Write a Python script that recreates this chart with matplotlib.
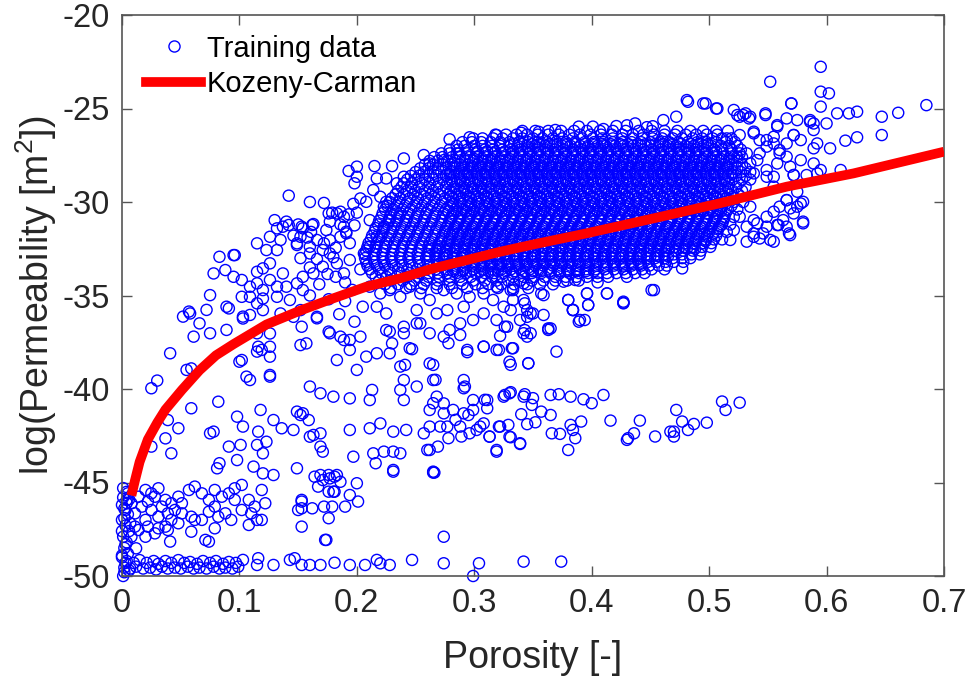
import numpy as np
import matplotlib
matplotlib.use("Agg")
import matplotlib.pyplot as plt
from matplotlib.lines import Line2D

plt.rcParams['font.family'] = ['Liberation Sans', 'DejaVu Sans']
plt.rcParams['mathtext.fontset'] = 'custom'
plt.rcParams['mathtext.rm'] = 'Liberation Sans'
plt.rcParams['mathtext.it'] = 'Liberation Sans'
plt.rcParams['axes.unicode_minus'] = False

# ---------------- data ----------------
# Kozeny-Carman curve
kc_x = [0.008, 0.011, 0.015, 0.022, 0.030, 0.037, 0.045, 0.051, 0.066, 0.080, 0.095, 0.123, 0.152, 0.180,
        0.208, 0.237, 0.265, 0.294, 0.322, 0.348, 0.396, 0.453, 0.509, 0.566, 0.623, 0.700]
kc_y = [-45.7, -44.9, -43.9, -42.7, -41.8, -41.1, -40.5, -40.05, -39.0, -38.2, -37.6, -36.55, -35.8, -35.15,
        -34.53, -34.08, -33.55, -33.10, -32.66, -32.30, -31.67, -30.87, -30.07, -29.18, -28.47, -27.31]

# bottom band of samples (log k ~ -49.5)
band_pts = [(0.004, -49.2), (0.010, -49.3), (0.015, -49.15), (0.021, -49.3), (0.027, -49.2), (0.031, -49.35),
            (0.037, -49.2), (0.042, -49.3), (0.048, -49.15), (0.053, -49.3), (0.058, -49.25), (0.064, -49.35),
            (0.069, -49.2), (0.075, -49.3), (0.080, -49.2), (0.086, -49.35), (0.091, -49.25), (0.097, -49.3),
            (0.002, -49.55), (0.007, -49.6), (0.012, -49.5), (0.018, -49.6), (0.024, -49.55), (0.029, -49.65),
            (0.034, -49.5), (0.039, -49.6), (0.045, -49.55), (0.050, -49.6), (0.056, -49.5), (0.061, -49.6),
            (0.066, -49.55), (0.072, -49.6), (0.078, -49.5), (0.083, -49.6), (0.088, -49.55), (0.094, -49.6),
            (0.099, -49.5), (0.103, -49.14), (0.116, -49.05), (0.115, -49.41), (0.129, -49.41), (0.143, -49.14),
            (0.147, -49.05), (0.153, -49.41), (0.160, -49.41), (0.169, -49.41), (0.181, -49.29), (0.194, -49.41),
            (0.207, -49.41), (0.217, -49.14), (0.220, -49.32), (0.228, -49.41), (0.247, -49.14), (0.274, -49.32),
            (0.304, -49.32), (0.342, -49.23), (0.374, -49.23), (0.299, -50.0), (0.274, -47.9), (0.001, -50.0)]

# column of samples at very low porosity
col_pts = [(0.001, -45.8), (0.004, -46.1), (0.002, -46.4), (0.005, -46.7), (0.000, -47.0), (0.003, -47.3),
           (0.006, -47.6), (0.001, -47.9), (0.004, -48.2), (0.002, -48.5), (0.005, -48.8), (0.000, -49.0),
           (0.003, -49.3), (0.006, -49.7), (0.000, -46.2), (0.002, -46.9), (0.000, -47.6), (0.003, -48.3),
           (0.000, -48.9), (0.002, -49.8), (0.004, -45.5), (0.001, -45.3), (0.006, -45.9)]

# cluster around log k -45 .. -48
low_pts = [(0.003, -46.47), (0.008, -46.11), (0.014, -45.76), (0.020, -45.40), (0.025, -45.58), (0.031, -45.31),
           (0.037, -45.93), (0.042, -46.11), (0.048, -45.76), (0.057, -45.40), (0.062, -45.22), (0.068, -45.58),
           (0.074, -45.93), (0.079, -45.40), (0.085, -45.76), (0.091, -45.58), (0.096, -45.31), (0.102, -45.13),
           (0.108, -45.93), (0.113, -46.29), (0.119, -45.40), (0.122, -46.11), (0.110, -46.65), (0.119, -47.00),
           (0.108, -47.27), (0.102, -46.47), (0.096, -45.93), (0.088, -46.65), (0.079, -46.29), (0.074, -46.56),
           (0.068, -47.00), (0.059, -46.83), (0.051, -46.65), (0.042, -47.00), (0.037, -47.36), (0.031, -46.83),
           (0.025, -46.47), (0.020, -47.00), (0.014, -47.54), (0.008, -47.90), (0.012, -48.52), (0.020, -47.90),
           (0.028, -47.72), (0.039, -47.54), (0.048, -47.18), (0.059, -47.63), (0.071, -48.07), (0.079, -47.45),
           (0.062, -47.00), (0.082, -46.83), (0.093, -47.00), (0.115, -47.00), (0.041, -48.16), (0.074, -48.16),
           (0.005, -45.58), (0.011, -46.65), (0.017, -46.29), (0.022, -46.02), (0.028, -45.76), (0.034, -46.29),
           (0.039, -46.65), (0.045, -46.47), (0.051, -46.11), (0.022, -47.36), (0.031, -47.45), (0.007, -47.18),
           (0.004, -45.93), (0.011, -47.36), (0.153, -46.02), (0.153, -47.36), (0.173, -48.07), (0.164, -44.69),
           (0.176, -44.60), (0.181, -44.69), (0.167, -45.22), (0.176, -45.49), (0.181, -45.49), (0.162, -46.38),
           (0.172, -46.29), (0.179, -46.29), (0.176, -46.91), (0.190, -46.29), (0.194, -45.67), (0.201, -46.02),
           (0.200, -45.04), (0.150, -46.47), (0.153, -45.93), (0.153, -46.38), (0.174, -48.07), (0.180, -45.49)]

# sparse samples in the middle of the plot
mid_pts = [(0.041, -38.09), (0.025, -39.96), (0.030, -39.55), (0.055, -38.98), (0.059, -38.90), (0.059, -41.03),
           (0.039, -41.66), (0.048, -42.10), (0.037, -42.64), (0.025, -43.08), (0.042, -43.44), (0.082, -40.68),
           (0.075, -42.37), (0.078, -42.28), (0.098, -41.48), (0.103, -42.01), (0.091, -43.08), (0.101, -42.99),
           (0.098, -43.80), (0.083, -43.97), (0.081, -44.24), (0.118, -41.12), (0.116, -42.28), (0.115, -42.99),
           (0.120, -43.44), (0.123, -42.82), (0.129, -41.66), (0.126, -39.34), (0.109, -39.52), (0.106, -39.34),
           (0.102, -38.45), (0.100, -38.54), (0.126, -38.27), (0.119, -37.91), (0.115, -38.00), (0.112, -44.15),
           (0.120, -44.51), (0.129, -44.60), (0.136, -42.10), (0.146, -42.19), (0.149, -41.21), (0.152, -41.39),
           (0.154, -41.30), (0.159, -41.66), (0.163, -42.46), (0.160, -42.55), (0.169, -42.37), (0.169, -43.08),
           (0.171, -43.35), (0.149, -44.24), (0.169, -44.60), (0.171, -44.87), (0.177, -44.78), (0.183, -44.60),
           (0.186, -44.96), (0.160, -39.87), (0.169, -40.23), (0.180, -40.41), (0.194, -40.50), (0.177, -37.02),
           (0.186, -37.20), (0.194, -37.38), (0.203, -37.20), (0.200, -38.98), (0.183, -38.45), (0.217, -38.09),
           (0.228, -38.09), (0.245, -37.82), (0.213, -40.05), (0.211, -40.59), (0.194, -42.19), (0.197, -43.62),
           (0.214, -43.44), (0.216, -43.97), (0.223, -43.35), (0.231, -43.35), (0.237, -43.44), (0.231, -44.33),
           (0.211, -42.10), (0.220, -41.84), (0.231, -42.28), (0.242, -42.19), (0.257, -42.37), (0.262, -42.01),
           (0.237, -38.80), (0.240, -39.52), (0.237, -40.05), (0.240, -40.59), (0.251, -39.87), (0.262, -38.63),
           (0.265, -39.52), (0.268, -40.41), (0.274, -40.77), (0.262, -41.12), (0.274, -41.30), (0.291, -39.52),
           (0.291, -39.96), (0.299, -40.59), (0.311, -40.59), (0.325, -40.41), (0.330, -40.23), (0.342, -40.41),
           (0.277, -42.01), (0.288, -42.01), (0.296, -42.37), (0.302, -42.19), (0.308, -41.84), (0.313, -42.55),
           (0.322, -42.01), (0.330, -42.55), (0.339, -42.90), (0.319, -43.26), (0.260, -43.26), (0.265, -44.42),
           (0.291, -41.30), (0.299, -41.12), (0.153, -36.67), (0.157, -37.56), (0.152, -37.65), (0.166, -36.22),
           (0.176, -36.93), (0.189, -37.38), (0.194, -37.91), (0.208, -38.27), (0.228, -36.93), (0.230, -37.56),
           (0.240, -37.02), (0.254, -36.49), (0.262, -37.02), (0.274, -37.20), (0.279, -36.84), (0.294, -37.91),
           (0.308, -37.74), (0.319, -37.91), (0.330, -38.54), (0.333, -37.82), (0.342, -37.02), (0.052, -36.13),
           (0.057, -35.86), (0.066, -36.49), (0.072, -35.77), (0.075, -37.02), (0.061, -37.20), (0.089, -36.84),
           (0.091, -35.69), (0.103, -36.13), (0.109, -36.04), (0.115, -37.02), (0.116, -37.74), (0.126, -37.74),
           (0.126, -39.25), (0.511, -40.67), (0.514, -41.12), (0.526, -40.73), (0.472, -41.12), (0.477, -41.74),
           (0.487, -41.87), (0.498, -41.80), (0.482, -42.19), (0.470, -42.28), (0.467, -42.28), (0.470, -42.54),
           (0.454, -42.54), (0.441, -41.69), (0.436, -42.37), (0.431, -42.63), (0.430, -42.72), (0.416, -41.69),
           (0.410, -40.32), (0.400, -40.76), (0.393, -40.55), (0.382, -40.41), (0.372, -40.28), (0.365, -40.32),
           (0.350, -40.49), (0.349, -40.85), (0.343, -40.28), (0.331, -40.17), (0.326, -40.32), (0.391, -41.74),
           (0.382, -41.92), (0.384, -42.19), (0.386, -42.63), (0.380, -43.26), (0.373, -42.40), (0.366, -42.37),
           (0.365, -41.39), (0.357, -41.21), (0.352, -41.78), (0.345, -41.88), (0.340, -41.35), (0.339, -42.94),
           (0.331, -42.58), (0.329, -41.92), (0.321, -42.01), (0.319, -43.35), (0.313, -42.54), (0.311, -41.03),
           (0.309, -40.58), (0.305, -42.01), (0.295, -41.39), (0.289, -42.54), (0.284, -41.65), (0.278, -42.63),
           (0.282, -41.12), (0.269, -43.08), (0.262, -43.26), (0.265, -44.47), (0.271, -42.01), (0.265, -40.76),
           (0.267, -39.51), (0.292, -39.87), (0.370, -38.00), (0.346, -38.62), (0.331, -38.71), (0.332, -37.82),
           (0.321, -37.91), (0.308, -37.73), (0.294, -38.03), (0.278, -37.55), (0.288, -37.11), (0.322, -37.16),
           (0.345, -37.20), (0.363, -36.84), (0.265, -38.71), (0.247, -37.87), (0.241, -38.71), (0.346, -38.63),
           (0.363, -36.76), (0.348, -37.02), (0.359, -36.04), (0.384, -35.77), (0.389, -36.40), (0.394, -36.31),
           (0.397, -35.51), (0.427, -35.42), (0.231, -44.42), (0.266, -44.47)]

# samples left of / below the main cloud
left_pts = [(0.142, -29.66), (0.193, -28.34), (0.200, -28.11), (0.200, -28.65), (0.198, -29.00), (0.203, -29.81),
            (0.215, -28.08), (0.230, -28.08), (0.240, -27.67), (0.257, -27.49), (0.279, -26.65), (0.296, -26.54),
            (0.285, -27.40), (0.274, -27.76), (0.262, -27.94), (0.319, -26.42), (0.179, -30.57), (0.186, -30.52),
            (0.193, -30.66), (0.200, -30.57), (0.177, -31.05), (0.189, -31.32), (0.191, -31.68), (0.174, -31.50),
            (0.163, -31.18), (0.154, -31.41), (0.152, -31.86), (0.140, -31.05), (0.132, -31.41), (0.130, -30.97),
            (0.126, -31.86), (0.115, -32.21), (0.123, -32.57), (0.132, -32.57), (0.135, -32.03), (0.149, -32.30),
            (0.160, -32.39), (0.166, -32.03), (0.171, -32.57), (0.177, -32.75), (0.160, -32.75), (0.083, -32.93),
            (0.095, -32.84), (0.088, -33.64), (0.078, -33.82), (0.095, -34.00), (0.102, -34.17), (0.075, -34.98),
            (0.089, -35.60), (0.102, -35.07), (0.109, -34.53), (0.115, -34.35), (0.120, -34.71), (0.126, -34.17),
            (0.132, -34.53), (0.140, -34.53), (0.149, -34.35), (0.154, -34.00), (0.137, -33.82), (0.126, -33.28),
            (0.120, -33.55), (0.115, -33.73), (0.109, -35.07), (0.115, -35.42), (0.120, -35.78), (0.132, -35.07),
            (0.143, -35.24), (0.154, -34.71), (0.163, -33.82), (0.171, -33.46), (0.183, -33.28), (0.189, -33.82),
            (0.194, -33.10), (0.206, -32.75), (0.211, -32.39), (0.217, -31.86), (0.223, -31.32), (0.228, -30.97),
            (0.234, -30.61), (0.223, -30.25), (0.211, -30.97), (0.058, -35.96), (0.214, -29.36), (0.220, -29.72),
            (0.225, -29.99), (0.208, -29.99), (0.217, -28.74), (0.225, -28.74), (0.234, -29.00), (0.240, -28.65),
            (0.137, -31.32), (0.142, -31.23), (0.153, -31.32), (0.162, -31.23), (0.149, -32.21), (0.172, -32.21),
            (0.177, -32.04), (0.186, -31.86), (0.191, -31.59), (0.176, -30.61), (0.183, -30.61), (0.189, -30.79),
            (0.096, -32.84), (0.120, -35.16), (0.103, -36.23), (0.135, -35.96), (0.146, -36.14), (0.152, -35.78),
            (0.166, -36.14), (0.126, -37.03), (0.160, -30.00), (0.172, -30.05), (0.197, -30.10), (0.150, -31.20),
            (0.161, -31.60), (0.186, -31.20), (0.198, -31.25), (0.146, -31.80), (0.158, -31.90), (0.182, -32.45),
            (0.194, -32.20), (0.152, -33.00), (0.166, -33.05), (0.180, -32.95), (0.160, -33.50), (0.175, -33.85),
            (0.190, -34.30), (0.203, -33.60), (0.168, -34.40), (0.182, -34.00), (0.196, -34.70), (0.160, -35.00),
            (0.176, -35.20), (0.190, -35.30), (0.205, -35.60), (0.185, -36.00), (0.198, -36.40)]

# samples just below the main cloud
below_pts = [(0.333, -34.71), (0.342, -35.24), (0.350, -35.96), (0.357, -34.89), (0.345, -36.14), (0.331, -35.78),
             (0.326, -36.67), (0.343, -36.85), (0.365, -36.76), (0.380, -35.24), (0.390, -36.31), (0.384, -35.78),
             (0.396, -34.89), (0.397, -35.51), (0.413, -34.89), (0.427, -35.33), (0.451, -34.71), (0.477, -33.55),
             (0.386, -34.17), (0.376, -34.26), (0.225, -36.85), (0.240, -36.67), (0.251, -36.49), (0.268, -35.96),
             (0.277, -35.78), (0.291, -35.60), (0.299, -36.31), (0.308, -35.96), (0.319, -36.31), (0.328, -36.67),
             (0.339, -36.31), (0.345, -35.78), (0.217, -35.60), (0.225, -35.96), (0.251, -35.78), (0.288, -36.49),
             (0.316, -35.24), (0.325, -35.60), (0.333, -35.24), (0.211, -34.53), (0.220, -34.89), (0.228, -34.71),
             (0.237, -35.07), (0.245, -34.53), (0.254, -34.89), (0.262, -35.24), (0.274, -34.71), (0.285, -34.89),
             (0.296, -35.07), (0.308, -34.89), (0.319, -34.53), (0.331, -34.71), (0.342, -34.35), (0.453, -34.71),
             (0.427, -35.39), (0.413, -34.89), (0.396, -34.89), (0.380, -35.24), (0.384, -35.78), (0.359, -34.98),
             (0.343, -35.42), (0.348, -35.96), (0.405, -34.30), (0.430, -34.00), (0.445, -33.80), (0.462, -33.60)]

# samples right of / above the main cloud
right_pts = [(0.369, -26.15), (0.389, -25.97), (0.401, -25.97), (0.421, -25.94), (0.437, -25.80), (0.461, -25.62),
             (0.472, -25.44), (0.481, -24.55), (0.495, -24.73), (0.507, -25.00), (0.524, -25.35), (0.535, -25.44),
             (0.548, -25.35), (0.570, -24.73), (0.595, -22.77), (0.552, -23.57), (0.595, -24.10), (0.602, -24.19),
             (0.595, -24.90), (0.609, -25.26), (0.619, -25.26), (0.626, -25.17), (0.647, -25.44), (0.661, -25.23),
             (0.685, -24.82), (0.647, -26.42), (0.626, -26.54), (0.616, -26.72), (0.603, -27.13), (0.589, -27.13),
             (0.586, -25.62), (0.589, -25.80), (0.600, -25.80), (0.575, -25.62), (0.558, -25.97), (0.572, -26.42),
             (0.566, -27.58), (0.569, -28.11), (0.515, -26.60), (0.526, -26.42), (0.538, -26.33), (0.549, -26.69),
             (0.555, -26.87), (0.560, -27.40), (0.543, -27.40), (0.535, -27.94), (0.524, -27.58), (0.538, -28.47),
             (0.549, -28.65), (0.555, -28.65), (0.572, -28.56), (0.583, -28.56), (0.592, -28.47), (0.612, -28.29),
             (0.595, -28.29), (0.589, -27.94), (0.575, -29.45), (0.566, -29.90), (0.569, -30.34), (0.575, -30.25),
             (0.580, -29.99), (0.580, -31.05), (0.563, -30.97), (0.568, -31.68), (0.555, -30.52), (0.549, -31.32),
             (0.543, -31.95), (0.552, -32.03), (0.538, -30.97), (0.532, -31.32), (0.538, -31.68), (0.559, -31.23),
             (0.482, -24.64), (0.497, -24.73), (0.506, -25.00), (0.570, -24.73), (0.548, -25.26), (0.531, -25.26),
             (0.526, -25.44), (0.566, -25.53), (0.558, -25.89), (0.521, -25.08), (0.529, -25.35), (0.534, -25.53),
             (0.538, -26.24), (0.543, -26.69), (0.549, -27.04), (0.555, -26.51), (0.560, -27.22), (0.566, -26.87),
             (0.572, -26.42), (0.578, -26.69), (0.586, -25.71), (0.589, -26.15), (0.592, -26.87), (0.532, -27.40),
             (0.541, -27.76), (0.549, -28.29), (0.558, -27.94), (0.572, -28.56), (0.578, -27.76), (0.555, -29.18),
             (0.566, -29.90), (0.578, -30.08), (0.572, -30.61), (0.580, -31.14), (0.566, -31.32), (0.558, -31.23),
             (0.549, -30.79), (0.541, -31.14), (0.538, -31.86), (0.532, -32.12), (0.546, -31.68), (0.555, -32.12),
             (0.569, -31.77), (0.560, -30.25), (0.535, -30.25), (0.526, -30.79), (0.521, -31.50), (0.518, -32.03),
             (0.430, -25.90), (0.452, -25.95), (0.447, -26.00), (0.410, -26.10), (0.355, -26.25), (0.340, -26.30)]

# dense main cloud, rows of log k with porosity values (in thousandths)
core_y = [-26.2, -26.6, -27.0, -27.4, -27.8, -28.2, -28.6, -29.0, -29.4, -29.8, -30.2,
          -30.6, -31.0, -31.4, -31.8, -32.2, -32.6, -33.0, -33.4, -33.8, -34.2, -34.6]
core_x = [
    [341, 352, 363, 374, 385, 396, 407, 418, 429, 440, 451, 462, 473, 484, 495, 506, 516],
    [299, 307, 316, 324, 333, 341, 350, 358, 367, 375, 384, 392, 401, 409, 418, 426, 435, 443, 452, 460, 469,
     477, 486, 494, 503, 511, 519],
    [285, 292, 300, 307, 315, 322, 330, 337, 345, 352, 360, 367, 375, 382, 390, 397, 405, 412, 420, 427, 435,
     442, 450, 457, 465, 472, 480, 487, 495, 502, 510, 517, 524],
    [272, 279, 287, 294, 302, 309, 317, 324, 332, 339, 347, 354, 362, 369, 377, 384, 392, 399, 407, 414, 422,
     429, 437, 444, 452, 459, 467, 474, 482, 489, 497, 504, 512, 519, 526],
    [262, 269, 277, 284, 292, 299, 307, 314, 322, 329, 337, 344, 352, 359, 367, 374, 382, 389, 397, 404, 412,
     419, 427, 434, 442, 449, 457, 464, 472, 479, 487, 494, 502, 509, 517, 524],
    [254, 261, 269, 276, 284, 291, 299, 306, 314, 321, 329, 336, 344, 351, 359, 366, 374, 381, 389, 396, 404,
     411, 419, 426, 434, 441, 449, 456, 464, 471, 479, 486, 494, 501, 509, 516, 524, 531],
    [246, 253, 261, 268, 276, 283, 291, 298, 306, 313, 321, 328, 336, 343, 351, 358, 366, 373, 381, 388, 396,
     403, 411, 418, 426, 433, 441, 448, 456, 463, 471, 478, 486, 493, 501, 508, 516, 523, 531],
    [240, 247, 255, 262, 270, 277, 285, 292, 300, 307, 315, 322, 330, 337, 345, 352, 360, 367, 375, 382, 390,
     397, 405, 412, 420, 427, 435, 442, 450, 457, 465, 472, 480, 487, 495, 502, 510, 517, 525],
    [235, 243, 250, 258, 265, 273, 280, 288, 295, 303, 310, 318, 325, 333, 340, 348, 355, 363, 370, 378, 385,
     393, 400, 408, 415, 423, 430, 438, 445, 453, 460, 468, 475, 483, 490, 498, 505, 513, 520, 528],
    [230, 237, 245, 252, 260, 267, 275, 282, 290, 297, 305, 312, 320, 327, 335, 342, 350, 357, 365, 372, 380,
     387, 395, 402, 410, 417, 425, 432, 440, 447, 455, 462, 470, 477, 485, 492, 500, 507, 515, 522],
    [226, 234, 241, 249, 256, 264, 271, 279, 286, 294, 301, 309, 316, 324, 331, 339, 346, 354, 361, 369, 376,
     384, 391, 399, 406, 414, 421, 429, 436, 444, 451, 459, 466, 474, 481, 489, 496, 504, 511, 519],
    [222, 229, 237, 244, 252, 259, 267, 274, 282, 289, 297, 304, 312, 319, 327, 334, 342, 349, 357, 364, 372,
     379, 387, 394, 402, 409, 417, 424, 432, 439, 447, 454, 462, 469, 477, 484, 492, 499, 507, 514],
    [219, 227, 234, 242, 249, 257, 264, 272, 279, 287, 294, 302, 309, 317, 324, 332, 339, 347, 354, 362, 369,
     377, 384, 392, 399, 407, 414, 422, 429, 437, 444, 452, 459, 467, 474, 482, 489, 497, 504, 512],
    [216, 223, 231, 238, 246, 253, 261, 268, 276, 283, 291, 298, 306, 313, 321, 328, 336, 343, 351, 358, 366,
     373, 381, 388, 396, 403, 411, 418, 426, 433, 441, 448, 456, 463, 471, 478, 486, 493, 501, 508],
    [213, 221, 228, 236, 243, 251, 258, 266, 273, 281, 288, 296, 303, 311, 318, 326, 333, 341, 348, 356, 363,
     371, 378, 386, 393, 401, 408, 416, 423, 431, 438, 446, 453, 461, 468, 476, 483, 491, 498, 506],
    [210, 217, 225, 232, 240, 247, 255, 262, 270, 277, 285, 292, 300, 307, 315, 322, 330, 337, 345, 352, 360,
     367, 375, 382, 390, 397, 405, 412, 420, 427, 435, 442, 450, 457, 465, 472, 480, 487, 495, 502],
    [208, 216, 223, 231, 238, 246, 253, 261, 268, 276, 283, 291, 298, 306, 313, 321, 328, 336, 343, 351, 358,
     366, 373, 381, 388, 396, 403, 411, 418, 426, 433, 441, 448, 456, 463, 471, 478, 486, 493],
    [207, 214, 222, 229, 237, 244, 252, 259, 267, 274, 282, 289, 297, 304, 312, 319, 327, 334, 342, 349, 357,
     364, 372, 379, 387, 394, 402, 409, 417, 424, 432, 439, 447, 454, 462, 469, 477, 484],
    [209, 217, 224, 232, 239, 247, 254, 262, 269, 277, 284, 292, 299, 307, 314, 322, 329, 337, 344, 352, 359,
     367, 374, 382, 389, 397, 404, 412, 419, 427, 434, 442, 449, 457, 464],
    [213, 221, 229, 237, 245, 253, 261, 269, 277, 285, 293, 301, 309, 317, 325, 333, 341, 349, 357, 365, 373,
     381, 389, 397, 405, 413, 421, 429, 437],
    [219, 229, 239, 249, 259, 269, 279, 289, 299, 309, 319, 329, 339, 349, 359, 369, 379, 389],
    [229, 242, 255, 268, 281, 294, 307, 320, 333, 346],
]

# second, interleaved set of rows of the dense cloud
core2_y = [-26.4, -26.8, -27.2, -27.6, -28.0, -28.4, -28.8, -29.2, -29.6, -30.0, -30.4,
           -30.8, -31.2, -31.6, -32.0, -32.4, -32.8, -33.2, -33.6, -34.0, -34.4]
core2_x = [
    [318, 327, 336, 345, 354, 363, 372, 381, 390, 399, 408, 417, 426, 435, 444, 453, 462, 471, 480, 489, 498, 507],
    [290, 298, 306, 314, 322, 330, 338, 346, 354, 362, 370, 378, 386, 394, 402, 410, 418, 426, 434, 442, 450,
     458, 466, 474, 482, 490, 498, 506, 514, 522],
    [279, 286, 294, 301, 309, 316, 324, 331, 339, 346, 354, 361, 369, 376, 384, 391, 399, 406, 414, 421, 429,
     436, 444, 451, 459, 466, 474, 481, 489, 496, 504, 511, 519, 527],
    [266, 273, 281, 288, 296, 303, 311, 318, 326, 333, 341, 348, 356, 363, 371, 378, 386, 393, 401, 408, 416,
     423, 431, 438, 446, 453, 461, 468, 476, 483, 491, 498, 506, 513, 521, 528],
    [258, 265, 273, 280, 288, 295, 303, 310, 318, 325, 333, 340, 348, 355, 363, 370, 378, 385, 393, 400, 408,
     415, 423, 430, 438, 445, 453, 460, 468, 475, 483, 490, 498, 505, 513, 520, 528],
    [250, 257, 265, 272, 280, 287, 295, 302, 310, 317, 325, 332, 340, 347, 355, 362, 370, 377, 385, 392, 400,
     407, 415, 422, 430, 437, 445, 452, 460, 467, 475, 482, 490, 497, 505, 512, 520, 527, 535],
    [243, 250, 258, 265, 273, 280, 288, 295, 303, 310, 318, 325, 333, 340, 348, 355, 363, 370, 378, 385, 393,
     400, 408, 415, 423, 430, 438, 445, 453, 460, 468, 475, 483, 490, 498, 505, 513, 520, 528, 535],
    [238, 246, 253, 261, 268, 276, 283, 291, 298, 306, 313, 321, 328, 336, 343, 351, 358, 366, 373, 381, 388,
     396, 403, 411, 418, 426, 433, 441, 448, 456, 463, 471, 478, 486, 493, 501, 508, 516, 523, 531],
    [233, 240, 248, 255, 263, 270, 278, 285, 293, 300, 308, 315, 323, 330, 338, 345, 353, 360, 368, 375, 383,
     390, 398, 405, 413, 420, 428, 435, 443, 450, 458, 465, 473, 480, 488, 495, 503, 510, 518, 525],
    [228, 236, 243, 251, 258, 266, 273, 281, 288, 296, 303, 311, 318, 326, 333, 341, 348, 356, 363, 371, 378,
     386, 393, 401, 408, 416, 423, 431, 438, 446, 453, 461, 468, 476, 483, 491, 498, 506, 513, 521, 529],
    [224, 231, 239, 246, 254, 261, 269, 276, 284, 291, 299, 306, 314, 321, 329, 336, 344, 351, 359, 366, 374,
     381, 389, 396, 404, 411, 419, 426, 434, 441, 449, 456, 464, 471, 479, 486, 494, 501, 509, 516, 524],
    [221, 228, 236, 243, 251, 258, 266, 273, 281, 288, 296, 303, 311, 318, 326, 333, 341, 348, 356, 363, 371,
     378, 386, 393, 401, 408, 416, 423, 431, 438, 446, 453, 461, 468, 476, 483, 491, 498, 506, 513, 521],
    [218, 226, 233, 241, 248, 256, 263, 271, 278, 286, 293, 301, 308, 316, 323, 331, 338, 346, 353, 361, 368,
     376, 383, 391, 398, 406, 413, 421, 428, 436, 443, 451, 458, 466, 473, 481, 488, 496, 503, 511, 518],
    [215, 222, 230, 237, 245, 252, 260, 267, 275, 282, 290, 297, 305, 312, 320, 327, 335, 342, 350, 357, 365,
     372, 380, 387, 395, 402, 410, 417, 425, 432, 440, 447, 455, 462, 470, 477, 485, 492, 500, 507, 515],
    [212, 219, 227, 234, 242, 249, 257, 264, 272, 279, 287, 294, 302, 309, 317, 324, 332, 339, 347, 354, 362,
     369, 377, 384, 392, 399, 407, 414, 422, 429, 437, 444, 452, 459, 467, 474, 482, 489, 497, 504, 511],
    [209, 216, 224, 231, 239, 246, 254, 261, 269, 276, 284, 291, 299, 306, 314, 321, 329, 336, 344, 351, 359,
     366, 374, 381, 389, 396, 404, 411, 419, 426, 434, 441, 449, 456, 464, 471, 479, 486, 494, 501],
    [207, 215, 222, 230, 237, 245, 252, 260, 267, 275, 282, 290, 297, 305, 312, 320, 327, 335, 342, 350, 357,
     365, 372, 380, 387, 395, 402, 410, 417, 425, 432, 440, 447, 455, 462, 470, 477, 485, 492],
    [208, 215, 223, 230, 238, 245, 253, 260, 268, 275, 283, 290, 298, 305, 313, 320, 328, 335, 343, 350, 358,
     365, 373, 380, 388, 395, 403, 410, 418, 425, 433, 440, 448, 455, 463, 470, 478],
    [211, 219, 227, 235, 243, 251, 259, 267, 275, 283, 291, 299, 307, 315, 323, 331, 339, 347, 355, 363, 371,
     379, 387, 395, 403, 411, 419, 427, 435, 443, 451],
    [216, 225, 234, 243, 252, 261, 270, 279, 288, 297, 306, 315, 324, 333, 342, 351, 360, 369, 378, 387, 396,
     405, 414],
    [224, 235, 246, 257, 268, 279, 290, 301, 312, 323, 334, 345, 356, 367],
]

# third set of rows: the saturated centre of the cloud
core3_y = [-26.9, -27.3, -27.7, -28.1, -28.5, -28.9, -29.3, -29.7, -30.1, -30.5,
           -30.9, -31.3, -31.7, -32.1, -32.5, -32.9, -33.3, -33.7]
core3_x = [
    [334, 341, 349, 356, 364, 371, 379, 386, 394, 401, 409, 416, 424, 431, 439, 446, 454, 461, 469, 476, 484,
     491, 499],
    [303, 311, 318, 326, 333, 341, 348, 356, 363, 371, 378, 386, 393, 401, 408, 416, 423, 431, 438, 446, 453,
     461, 468, 476, 483, 491, 498, 506],
    [292, 300, 307, 315, 322, 330, 337, 345, 352, 360, 367, 375, 382, 390, 397, 405, 412, 420, 427, 435, 442,
     450, 457, 465, 472, 480, 487, 495, 502, 510, 517],
    [283, 290, 298, 305, 313, 320, 328, 335, 343, 350, 358, 365, 373, 380, 388, 395, 403, 410, 418, 425, 433,
     440, 448, 455, 463, 470, 478, 485, 493, 500, 508, 515],
    [279, 287, 294, 302, 309, 317, 324, 332, 339, 347, 354, 362, 369, 377, 384, 392, 399, 407, 414, 422, 429,
     437, 444, 452, 459, 467, 474, 482, 489, 497, 504, 512, 519],
    [281, 288, 296, 303, 311, 318, 326, 333, 341, 348, 356, 363, 371, 378, 386, 393, 401, 408, 416, 423, 431,
     438, 446, 453, 461, 468, 476, 483, 491, 498, 506, 513],
    [284, 291, 299, 306, 314, 321, 329, 336, 344, 351, 359, 366, 374, 381, 389, 396, 404, 411, 419, 426, 434,
     441, 449, 456, 464, 471, 479, 486, 494, 501, 509, 516],
    [280, 287, 295, 302, 310, 317, 325, 332, 340, 347, 355, 362, 370, 377, 385, 392, 400, 407, 415, 422, 430,
     437, 445, 452, 460, 467, 475, 482, 490, 497, 505, 512],
    [282, 289, 297, 304, 312, 319, 327, 334, 342, 349, 357, 364, 372, 379, 387, 394, 402, 409, 417, 424, 432,
     439, 447, 454, 462, 469, 477, 484, 492, 499, 507, 514],
    [278, 285, 293, 300, 308, 315, 323, 330, 338, 345, 353, 360, 368, 375, 383, 390, 398, 405, 413, 420, 428,
     435, 443, 450, 458, 465, 473, 480, 488, 495, 503, 510],
    [280, 288, 295, 303, 310, 318, 325, 333, 340, 348, 355, 363, 370, 378, 385, 393, 400, 408, 415, 423, 430,
     438, 445, 453, 460, 468, 475, 483, 490, 498, 505, 512],
    [277, 284, 292, 299, 307, 314, 322, 329, 337, 344, 352, 359, 367, 374, 382, 389, 397, 404, 412, 419, 427,
     434, 442, 449, 457, 464, 472, 479, 487, 494, 502, 509],
    [279, 286, 294, 301, 309, 316, 324, 331, 339, 346, 354, 361, 369, 376, 384, 391, 399, 406, 414, 421, 429,
     436, 444, 451, 459, 466, 474, 481, 489, 496, 503],
    [272, 279, 287, 294, 302, 309, 317, 324, 332, 339, 347, 354, 362, 369, 377, 384, 392, 399, 407, 414, 422,
     429, 437, 444, 452, 459, 467, 474, 482, 489, 497],
    [264, 271, 279, 286, 294, 301, 309, 316, 324, 331, 339, 346, 354, 361, 369, 376, 384, 391, 399, 406, 414,
     421, 429, 436, 444, 451, 459, 466, 474, 481, 488],
    [262, 270, 277, 285, 292, 300, 307, 315, 322, 330, 337, 345, 352, 360, 367, 375, 382, 390, 397, 405, 412,
     420, 427, 435, 442, 450, 457, 465],
    [270, 278, 285, 293, 300, 308, 315, 323, 330, 338, 345, 353, 360, 368, 375, 383, 390, 398, 405, 413, 420,
     428, 435, 442],
    [282, 290, 297, 305, 312, 320, 327, 335, 342, 350, 357, 365, 372, 380, 387, 395, 402],
]

x_ticks = [0, 0.1, 0.2, 0.3, 0.4, 0.5, 0.6, 0.7]
x_tick_labels = ['0', '0.1', '0.2', '0.3', '0.4', '0.5', '0.6', '0.7']
y_ticks = [-50, -45, -40, -35, -30, -25, -20]
y_tick_labels = ['-50', '-45', '-40', '-35', '-30', '-25', '-20']

# ---------------- assemble ----------------
pts = band_pts + col_pts + low_pts + mid_pts + left_pts + below_pts + right_pts
sx = [p[0] for p in pts]
sy = [p[1] for p in pts]
for rows_y, rows_x in ((core_y, core_x), (core2_y, core2_x), (core3_y, core3_x)):
    for yv, xs in zip(rows_y, rows_x):
        sx.extend([v / 1000.0 for v in xs])
        sy.extend([yv] * len(xs))

# ---------------- plot ----------------
fig = plt.figure(figsize=(9.68, 6.77), dpi=100)
ax = fig.add_axes([122 / 968, 101 / 677, 822 / 968, 561 / 677])

ax.scatter(sx, sy, s=64, facecolors='none', edgecolors=(0, 0, 1), linewidths=1.0,
           clip_on=False, zorder=2)
ax.plot(kc_x, kc_y, color=(1, 0, 0), linewidth=7, solid_capstyle='butt',
        solid_joinstyle='round', zorder=3)

ax.set_xlim(0, 0.7)
ax.set_ylim(-50, -20)
ax.set_xticks(x_ticks)
ax.set_xticklabels(x_tick_labels)
ax.set_yticks(y_ticks)
ax.set_yticklabels(y_tick_labels)

axis_col = '#262626'
for sp in ax.spines.values():
    sp.set_color('#555555')
    sp.set_linewidth(1.2)
ax.tick_params(direction='in', length=7, width=1.0, top=True, right=True,
               labelsize=23.5, colors='#555555', labelcolor=axis_col, pad=9)

ax.set_xlabel('Porosity [-]', fontsize=27, color=axis_col, labelpad=15)
ax.set_ylabel('log(Permeability [m$^2$])', fontsize=27, color=axis_col, labelpad=2)

handles = [Line2D([], [], linestyle='none', marker='o', markersize=8, markerfacecolor='none',
                  markeredgecolor=(0, 0, 1), markeredgewidth=1.0),
           Line2D([], [], color=(1, 0, 0), linewidth=7)]
leg = ax.legend(handles, ['Training data', 'Kozeny-Carman'], loc='upper left',
                bbox_to_anchor=(0.029, 0.965), frameon=False, fontsize=21,
                handlelength=1.9, handletextpad=0.2, labelspacing=0.25,
                borderaxespad=0, borderpad=0)
for t in leg.get_texts():
    t.set_color('black')

fig.savefig('out.png', dpi=100)
